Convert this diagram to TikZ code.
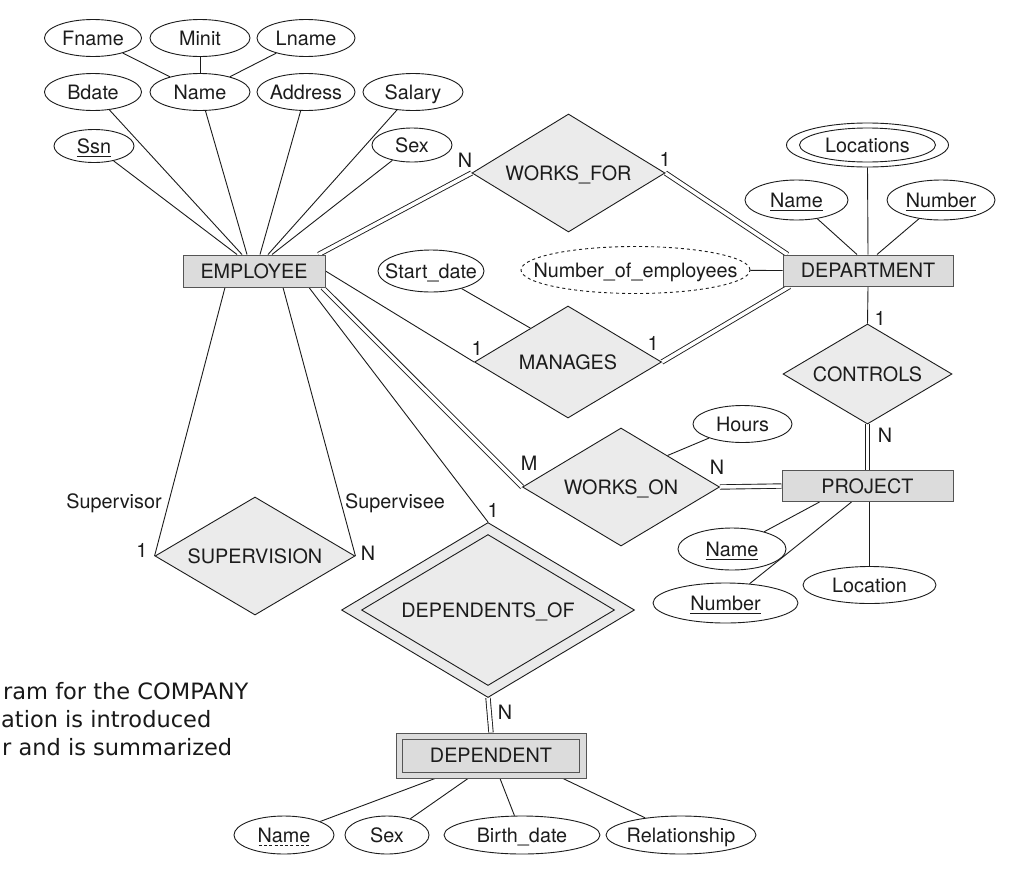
\documentclass[tikz,border=0pt]{standalone}
\usepackage{fontspec}
\setmainfont{TeX Gyre Heros}
\newfontfamily\capfont{DejaVu Sans}
\usetikzlibrary{shapes.geometric,calc}
\newsavebox\myulbox
\newcommand\myul[1]{\sbox\myulbox{#1}\leavevmode\rlap{\smash{\rule[-3.4pt]{\wd\myulbox}{0.9pt}}}\usebox\myulbox}
\newcommand\mydashul[1]{\sbox\myulbox{#1}\leavevmode\rlap{\smash{\raisebox{-3.4pt}{\hbox to\wd\myulbox{\xleaders\hbox to 5pt{\hss\vrule height 0.9pt depth 0pt width 3pt\hss}\hfill}}}}\usebox\myulbox}
\newcommand\zw[1]{\makebox[0pt]{#1}}
\definecolor{ink}{HTML}{1C1C1C}
\definecolor{entfill}{HTML}{DCDCDC}
\definecolor{relfill}{HTML}{EBEBEB}
\definecolor{entborder}{HTML}{555555}
\pgfdeclarelayer{bgl}
\pgfdeclarelayer{edgel}
\pgfsetlayers{bgl,edgel,main}
\tikzset{
  txt/.style={font=\fontsize{19.8}{23}\selectfont, text=ink},
  fixsz/.style={text height=14.2pt, text depth=0pt},
  lbl/.style={txt, inner sep=0pt},
  attr/.style={txt, fixsz, ellipse, draw=ink, line width=0.9pt, fill=white, inner sep=0pt},
  rel/.style={txt, fixsz, diamond, draw=ink, line width=0.9pt, fill=relfill, inner sep=0pt},
  ent/.style={txt, fixsz, rectangle, draw=entborder, line width=1pt, fill=entfill, inner sep=0pt},
  conn/.style={draw=ink, line width=0.9pt},
  dbl/.style={draw=ink, line width=0.9pt, double=white, double distance=3.5pt},
  sz/.style 2 args={minimum width=#1pt, minimum height=#2pt},
  captxt/.style={font=\capfont\fontsize{22.5}{27}\selectfont, text=black!90, inner sep=0pt, anchor=base west}
}
\begin{document}
\begin{tikzpicture}[x=1pt,y=-1pt]
\begin{pgfonlayer}{bgl}
\fill[white] (0,0) rectangle (1016,889);
\end{pgfonlayer}
\useasboundingbox (0,0) rectangle (1016,889);

% EMPLOYEE attributes
\node[attr, sz={97}{37}] (fname) at (93,38) {\zw{Fname}};
\node[attr, sz={100}{37}] (minit) at (200,38) {\zw{Minit}};
\node[attr, sz={98}{37}] (lname) at (306,38) {\zw{Lname}};
\node[attr, sz={97}{37}] (bdate) at (93,92) {\zw{Bdate}};
\node[attr, sz={100}{37}] (ename) at (200,92) {\zw{Name}};
\node[attr, sz={98}{37}] (addr) at (306,92) {\zw{Address}};
\node[attr, sz={100}{37}] (salary) at (413,92) {\zw{Salary}};
\node[attr, sz={80}{33}] (ssn) at (94,146) {\zw{\myul{Ssn}}};
\node[attr, sz={80}{34}] (esex) at (412,145) {\zw{Sex}};

\node[ent, sz={142}{32}] (emp) at (254,271) {\zw{EMPLOYEE}};

% WORKS_FOR, DEPARTMENT
\node[rel, sz={193}{118}] (wf) at (568.5,173) {\zw{WORKS\_FOR}};
\node[ent, sz={170}{31}] (dept) at (868,270.5) {\zw{DEPARTMENT}};
\node[attr, dashed, sz={229}{47}] (noe) at (635.5,270) {\zw{Number\_of\_employees}};
\node[attr, sz={162}{44}] (locout) at (867.5,145) {};
\node[attr, sz={136}{34}] (locin) at (867.5,145) {\zw{Locations}};
\node[attr, sz={103}{40}] (dname) at (796.5,200) {\zw{\myul{Name}}};
\node[attr, sz={108}{40}] (dnum) at (941,200) {\zw{\myul{Number}}};

% MANAGES
\node[attr, sz={106}{42}] (sd) at (431,271) {\zw{Start\_date}};
\node[rel, sz={187}{112}] (mg) at (568,362) {\zw{MANAGES}};

% CONTROLS, PROJECT, WORKS_ON
\node[rel, sz={169}{100}] (ctrl) at (867.5,374) {\zw{CONTROLS}};
\node[rel, sz={197}{118}] (wo) at (621,487) {\zw{WORKS\_ON}};
\node[attr, sz={99}{37}] (hours) at (742.5,424) {\zw{Hours}};
\node[ent, sz={171}{31}] (proj) at (867.5,486) {\zw{PROJECT}};
\node[attr, sz={108}{42}] (pname) at (732,549) {\zw{\myul{Name}}};
\node[attr, sz={145}{40}] (pnum) at (725.5,603) {\zw{\myul{Number}}};
\node[attr, sz={133}{37}] (ploc) at (869.5,585) {\zw{Location}};

% SUPERVISION
\node[rel, sz={200}{118}] (sup) at (255,556) {\zw{SUPERVISION}};

% DEPENDENTS_OF, DEPENDENT
\node[rel, sz={293}{175}] (depof) at (488,610) {};
\node[rel, sz={253}{151}] (depofin) at (488,610) {\zw{DEPENDENTS\_OF}};
\node[ent, sz={190}{45}] (dep) at (491,755.5) {};
\node[ent, sz={177}{33}] (depin) at (491,755.5) {\zw{DEPENDENT}};
\node[attr, sz={100}{38}] (depname) at (284,835) {\zw{\mydashul{Name}}};
\node[attr, sz={84}{38}] (depsex) at (387,835) {\zw{Sex}};
\node[attr, sz={156}{38}] (depbd) at (522,835) {\zw{Birth\_date}};
\node[attr, sz={150}{38}] (deprel) at (681,835) {\zw{Relationship}};

% cardinality and role labels
\node[lbl] (cwfN) at (465,160) {N};
\node[lbl] (cwf1) at (665,159) {1};
\node[lbl] (cmg1a) at (477,348) {1};
\node[lbl] (cmg1b) at (653,343) {1};
\node[lbl] (cct1) at (880,318) {1};
\node[lbl] (cctN) at (885,435) {N};
\node[lbl] (cwoM) at (529,463) {M};
\node[lbl] (cwoN) at (717,467) {N};
\node[lbl] (rsupr) at (114,503) {Supervisor};
\node[lbl] (rsupe) at (395,503) {Supervisee};
\node[lbl] (csup1) at (142,550) {1};
\node[lbl] (csupN) at (368,553) {N};
\node[lbl] (cdo1) at (493,510) {1};
\node[lbl] (cdoN) at (505,712) {N};

% caption fragment
\node[captxt] (cap1) at (3,699) {ram for the COMPANY};
\node[captxt] (cap2) at (1,727) {ation is introduced};
\node[captxt] (cap3) at (2,755) {r and is summarized};

\begin{pgfonlayer}{edgel}
% name components
\draw[conn] (fname) -- (ename);
\draw[conn] (minit) -- (ename);
\draw[conn] (lname) -- (ename);
% employee attributes
\draw[conn] (ssn) -- ($(emp.north)+(-17,0)$);
\draw[conn] (bdate) -- ($(emp.north)+(-12,0)$);
\draw[conn] (ename) -- ($(emp.north)+(-7,0)$);
\draw[conn] (addr) -- ($(emp.north)+(6,0)$);
\draw[conn] (salary) -- ($(emp.north)+(14,0)$);
\draw[conn] (esex) -- ($(emp.north)+(18,0)$);
% WORKS_FOR
\draw[dbl] ($(emp.north east)+(-7,0)$) -- (wf.west);
\draw[dbl] (wf.east) -- ($(dept.north west)+(5,0)$);
% department attributes
\draw[conn] (noe) -- (dept.west);
\draw[conn] (locout.south) -- (dept.north);
\draw[conn] (dname) -- ($(dept.north)+(-11,0)$);
\draw[conn] (dnum) -- ($(dept.north)+(9,0)$);
% MANAGES
\draw[conn] (emp.east) -- (mg.west);
\draw[dbl] (mg.east) -- ($(dept.south west)+(7,0)$);
\draw[conn] (sd) -- ($(mg.west)!0.6!(mg.north)$);
% CONTROLS
\draw[conn] (dept.south) -- (ctrl.north);
\draw[dbl] (ctrl.south) -- (proj.north);
% WORKS_ON
\draw[dbl] ($(emp.south east)+(-3,0)$) -- (wo.west);
\draw[dbl] (wo.east) -- (proj.west);
\draw[conn] (hours) -- ($(wo.north)!0.47!(wo.east)$);
% project attributes
\draw[conn] (pname) -- ($(proj.south)+(-48,0)$);
\draw[conn] (pnum) -- ($(proj.south)+(-16,0)$);
\draw[conn] (ploc.north) -- ($(proj.south)+(2,0)$);
% SUPERVISION
\draw[conn] ($(emp.south)+(-29,0)$) -- (sup.west);
\draw[conn] ($(emp.south)+(29,0)$) -- (sup.east);
% DEPENDENTS_OF
\draw[conn] ($(emp.south)+(55,0)$) -- (depof.north);
\draw[dbl] (depof.south) -- (dep.north);
% dependent attributes
\draw[conn] (depname) -- ($(dep.south)+(-56,0)$);
\draw[conn] (depsex) -- ($(dep.south)+(-23,0)$);
\draw[conn] (depbd) -- ($(dep.south)+(9,0)$);
\draw[conn] (deprel) -- ($(dep.south)+(72,0)$);
\end{pgfonlayer}
\end{tikzpicture}
\end{document}
